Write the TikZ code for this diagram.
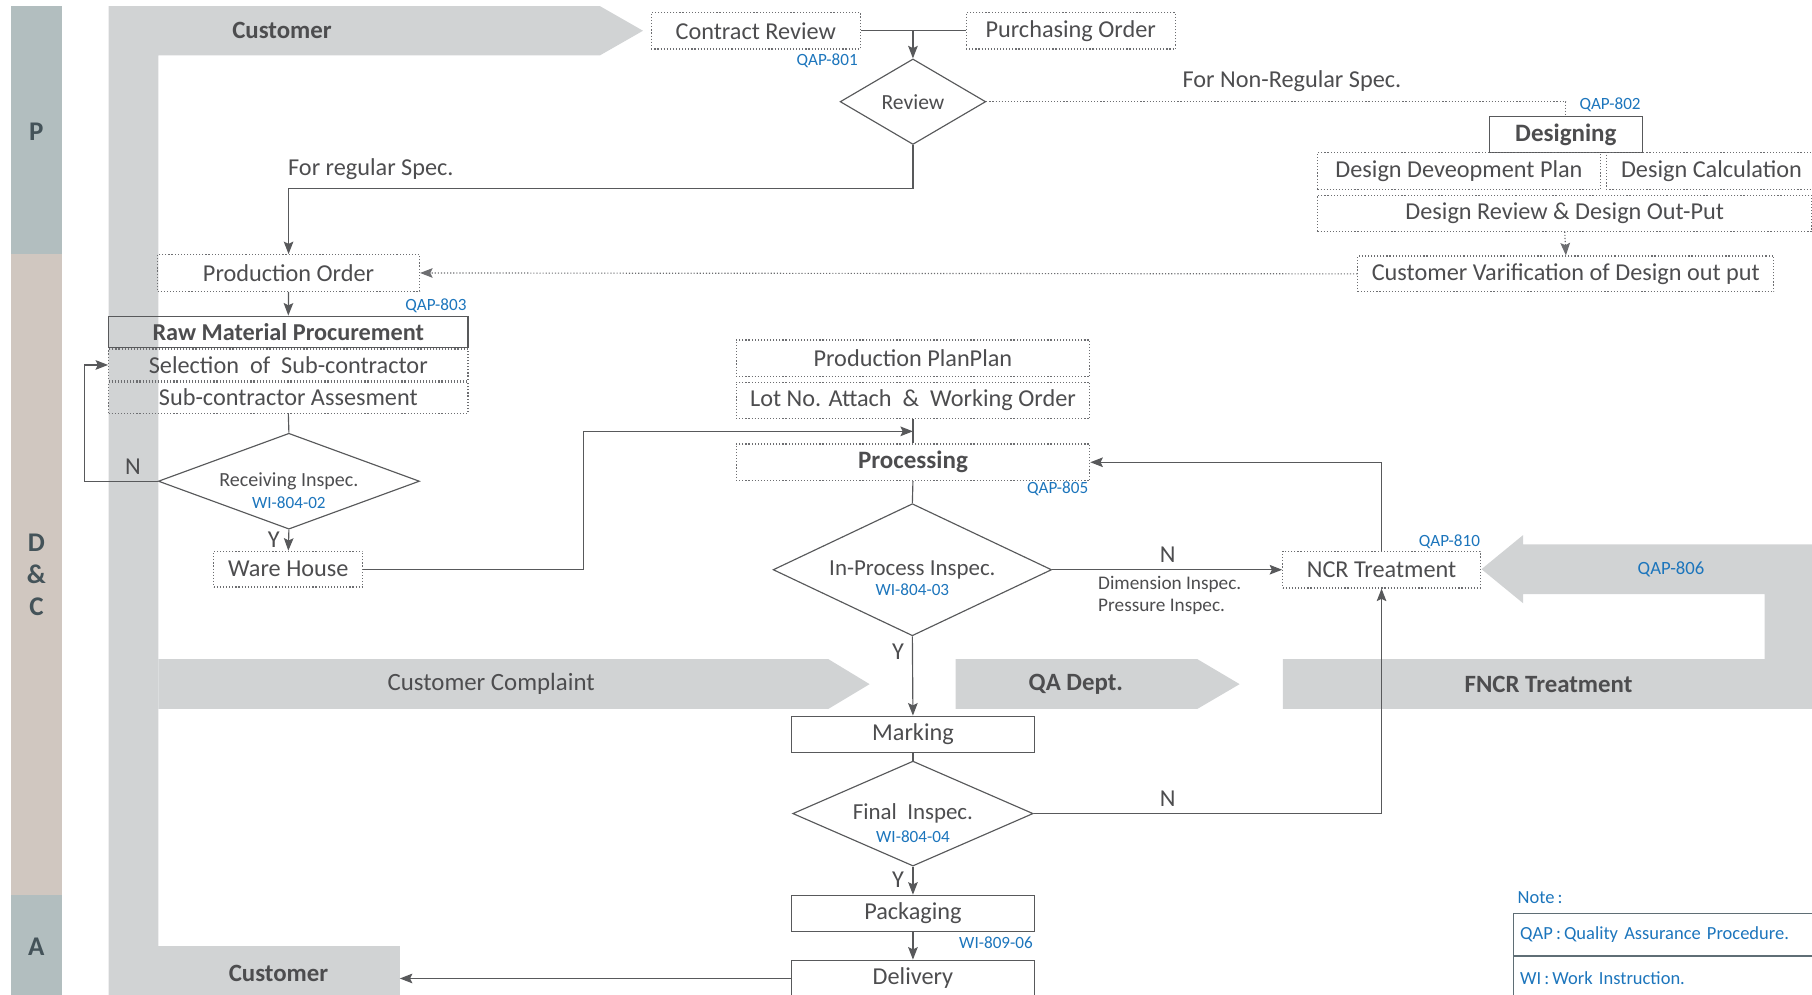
\documentclass[tikz,border=0pt]{standalone}
\usepackage{fontspec}
\setmainfont{Carlito}
\usetikzlibrary{shapes}
\usetikzlibrary{arrows.meta}
\definecolor{bandgray}{HTML}{D1D3D4}
\definecolor{phasegray}{HTML}{B2BEBF}
\definecolor{phasebeige}{HTML}{D0C7C0}
\definecolor{phaseink}{HTML}{445359}
\definecolor{inkgray}{HTML}{4D4D4F}
\definecolor{linegray}{HTML}{58595B}
\definecolor{dotgray}{HTML}{6D6E71}
\definecolor{qapblue}{HTML}{1C75BC}
\definecolor{notegray}{HTML}{5F6E75}
\tikzset{
	flownode/.style = {
		align=center,
		inner sep=0pt,
		text centered,
		text=inkgray,
		font=\fontsize{12.6}{15}\selectfont
	},
	box_dot/.style = {
		flownode,
		rectangle,
		draw=dotgray,
		densely dotted,
		line width=0.6pt,
		minimum height=19pt
	},
	box_line/.style = {
		flownode,
		rectangle,
		draw=linegray,
		line width=0.6pt,
		minimum height=19pt
	},
	box_bold/.style = {
		font=\fontsize{13}{15}\selectfont\bfseries
	},
	node_check/.style = {
		flownode,
		diamond,
		draw=linegray,
		line width=0.6pt
	},
	code/.style = {
		inner sep=0pt,
		text=qapblue,
		font=\fontsize{8.9}{10}\selectfont
	},
	band/.style = {
		fill=bandgray
	},
	band_text/.style = {
		inner sep=0pt,
		text=inkgray,
		font=\fontsize{12.9}{15}\selectfont\bfseries
	},
	phase/.style = {
		inner sep=0pt,
		align=center,
		text=phaseink,
		font=\fontsize{14}{16.5}\selectfont\bfseries
	},
	answer/.style = {
		inner sep=0pt,
		text=inkgray,
		font=\fontsize{12.6}{15}\selectfont
	},
	flow/.style = {
		draw=linegray,
		line width=0.6pt
	},
	flow_dot/.style = {
		flow,
		draw=dotgray,
		densely dotted
	},
	note_row/.style = {
		rectangle,
		draw=notegray,
		line width=0.6pt,
		anchor=north west,
		inner xsep=3.6pt,
		inner ysep=0pt,
		text width=152pt,
		align=left,
		text=qapblue,
		font=\fontsize{9.6}{11}\selectfont
	}
}
\begin{document}
\begin{tikzpicture}[x=0.6pt, y=-0.6pt, >={Stealth[length=6.5pt,width=5pt,inset=1.2pt]}]
\useasboundingbox (0,0) rectangle (1568,861);
\clip (0,0) rectangle (1568,861);

% phases
\fill[phasegray] (9.7,5.2) rectangle (53.3,220);
\fill[phasebeige] (9.7,220) rectangle (53.3,774.6);
\fill[phasegray] (9.7,774.6) rectangle (53.3,861);
\node[phase] (phase_p) at (31.5,114) {P};
\node[phase] (phase_dc) at (31.5,497.6) {D\\\&\\C};
\node[phase] (phase_a) at (31.5,819.5) {A};

% bands
\fill[band] (94,5.2) -- (519,5.2) -- (556.4,26.6) -- (519,48) -- (137,48) -- (137,861) -- (94,861) -- cycle;
\fill[band] (137,570.3) -- (716.7,570.3) -- (752.5,592) -- (716.7,613.5) -- (137,613.5) -- cycle;
\fill[band] (827,570.3) -- (1036,570.3) -- (1072.7,592) -- (1036,613.5) -- (827,613.5) -- cycle;
\fill[band] (1110,570.3) -- (1527,570.3) -- (1527,514) -- (1318,514) -- (1318,522) -- (1282,492.5)
	-- (1318,463) -- (1318,471) -- (1572,471) -- (1572,613.5) -- (1110,613.5) -- cycle;
\fill[band] (94,819) rectangle (346,861);
\coordinate (cust_bot_edge) at (346,844);
\node[band_text] (cust_top) at (244,26.6) {Customer};
\node[band_text, font=\fontsize{12.9}{15}\selectfont] (complaint) at (425,592) {Customer Complaint};
\node[band_text] (qa_dept) at (931,592) {QA Dept.};
\node[band_text] (fncr) at (1340,592) {FNCR Treatment};
\node[band_text] (cust_bot) at (241,842) {Customer};
\node[code, font=\fontsize{9.7}{11}\selectfont] (qap806) at (1446,492.5) {QAP-806};

% planning
\node[box_dot, minimum width=108.5pt] (contract) at (654,26.6) {Contract Review};
\node[box_dot, minimum width=108.6pt] (purchasing) at (926.5,26.6) {Purchasing Order};
\node[node_check, shape aspect=1.7, minimum width=75.6pt, minimum height=44.4pt,
	font=\fontsize{11.2}{13}\selectfont] (review) at (790,88) {Review};
\node[box_line, box_bold, minimum width=79.2pt, minimum height=18.6pt] (designing) at (1355,116.5) {Designing};
\node[box_dot, minimum width=147pt] (design_plan) at (1262.5,148) {Design Deveopment Plan};
\node[box_dot, minimum width=109.2pt] (design_calc) at (1481,148) {Design Calculation};
\node[box_dot, minimum width=256.8pt, minimum height=18.6pt] (design_review) at (1354,184.5) {Design Review \& Design Out-Put};
\node[box_dot, minimum width=216pt, minimum height=18.6pt] (cust_verif) at (1355,237) {Customer Varification of Design out put};
\node[box_dot, minimum width=136pt] (prod_order) at (249.7,236.2) {Production Order};

% raw material
\node[box_line, box_bold, font=\fontsize{12.6}{15}\selectfont\bfseries, minimum width=186.6pt, minimum height=16.5pt] (raw) at (249.5,287.3) {Raw Material Procurement};
\node[box_dot, minimum width=186.6pt, minimum height=16.5pt] (selection) at (249.5,315.8) {Selection~~of~~Sub-contractor};
\node[box_dot, minimum width=186.6pt, minimum height=16.2pt] (assess) at (249.5,344) {Sub-contractor Assesment};
\node[node_check, shape aspect=2.7, minimum width=135.6pt, minimum height=49.8pt,
	font=\fontsize{10.4}{12}\selectfont,
	label={[code, name=wi_recv, yshift=-11pt]center:WI-804-02}] (recv) at (250,416.4) {Receiving Inspec.};
\node[box_dot, minimum width=77.4pt, minimum height=18.6pt] (warehouse) at (249.5,492.5) {Ware House};

% production
\node[box_dot, minimum width=183.6pt] (plan) at (790,310) {Production PlanPlan};
\node[box_dot, minimum width=183.6pt] (lot) at (790,346.5) {Lot No. Attach~~\&~~Working Order};
\node[box_dot, box_bold, minimum width=183.6pt] (processing) at (790,400) {Processing};
\node[node_check, shape aspect=2.1, minimum width=144.6pt, minimum height=68.6pt,
	font=\fontsize{11.9}{14}\selectfont,
	label={[code, name=wi_inproc, yshift=-10.2pt]center:WI-804-03}] (inproc) at (789.5,493) {In-Process Inspec.};
\node[box_dot, minimum width=102.6pt] (ncr) at (1195.5,493) {NCR Treatment};
\node[box_line, minimum width=126pt] (marking) at (790,635.5) {Marking};
\node[node_check, shape aspect=2.3, minimum width=124.8pt, minimum height=54.5pt,
	font=\fontsize{11.9}{14}\selectfont,
	label={[code, name=wi_final, yshift=-12pt]center:WI-804-04}] (final) at (790,704) {Final~~Inspec.};
\node[box_line, minimum width=126pt] (packaging) at (790,790.5) {Packaging};
\node[box_line, minimum width=126pt] (delivery) at (790,846.7) {Delivery};

% codes
\node[code, anchor=east] (qap801) at (742.5,52.5) {QAP-801};
\node[code, anchor=east] (qap802) at (1420,91) {QAP-802};
\node[code, anchor=east] (qap803) at (404,265) {QAP-803};
\node[code, anchor=east] (qap805) at (942,423) {QAP-805};
\node[code, anchor=east] (qap810) at (1281,469) {QAP-810};
\node[code, anchor=east] (wi80906) at (894,816) {WI-809-06};

% texts
\node[answer, anchor=west] (for_regular) at (249,146) {For regular Spec.};
\node[answer, anchor=west] (for_nonregular) at (1023,70.5) {For Non-Regular Spec.};
\node[answer] (n_recv) at (115,404) {N};
\node[answer] (y_recv) at (237,467) {Y};
\node[answer] (n_inproc) at (1010.5,480) {N};
\node[answer, anchor=west, align=left, font=\fontsize{10}{11.4}\selectfont] (inspec_list) at (950,515.5) {Dimension Inspec.\\Pressure Inspec.};
\node[answer] (y_inproc) at (777,564) {Y};
\node[answer] (n_final) at (1010.5,691.4) {N};
\node[answer] (y_final) at (777,761.5) {Y};

% note
\node[answer, anchor=west, text=qapblue, font=\fontsize{9.6}{11}\selectfont] (note_title) at (1313,777) {Note\,:};
\node[note_row, minimum height=21.6pt] (note_qap) at (1309,790) {QAP\,:\,Quality Assurance Procedure.};
\node[note_row, minimum height=23pt] (note_wi) at (note_qap.south west) {WI\,:\,Work Instruction.};

% flow
\draw[flow] (contract.east) -- (purchasing.west);
\draw[flow, ->] (contract.east -| review.north) -- (review.north);
\draw[flow_dot] (review.east) -| (designing.north);
\draw[flow, ->] (review.south) -- ++(0,37.5) -| (prod_order.north);
\draw[flow_dot, ->] (design_review.south) -- (cust_verif.north);
\draw[flow_dot, ->] (cust_verif.west) -- (prod_order.east);
\draw[flow, ->] (prod_order.south) -- (raw.north);
\draw[flow] (assess.south) -- (recv.north);
\draw[flow, ->] (recv.west) -- ++(-63.5,0) |- (selection.west);
\draw[flow, ->] (recv.south) -- (warehouse.north);
\path (lot.south) -- (processing.north) coordinate[midway] (feed);
\draw[flow] (lot.south) -- (processing.north);
\draw[flow, ->] (warehouse.east) -- ++(190.6,0) |- (feed);
\draw[flow] (processing.south) -- (inproc.north);
\draw[flow, ->] (inproc.east) -- (ncr.west);
\draw[flow, ->] (ncr.north) |- (processing.east);
\draw[flow, ->] (inproc.south) -- (marking.north);
\draw[flow] (marking.south) -- (final.north);
\draw[flow, ->] (final.east) -| (ncr.south);
\draw[flow, ->] (final.south) -- (packaging.north);
\draw[flow, ->] (packaging.south) -- (delivery.north);
\draw[flow, ->] (delivery.west) -- (delivery.west -| cust_bot_edge);
\end{tikzpicture}
\end{document}
